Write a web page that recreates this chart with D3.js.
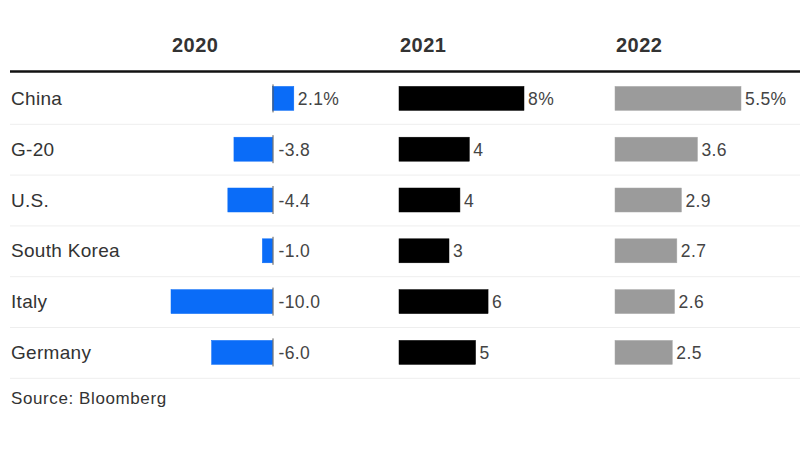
<!DOCTYPE html>
<html>
<head>
<meta charset="utf-8">
<script src="https://cdn.jsdelivr.net/npm/d3@7"></script>
<style>
  html, body { margin: 0; padding: 0; background: #fff; }
  svg { display: block; font-family: "Liberation Sans", Arial, Helvetica, sans-serif; }
</style>
</head>
<body>
<svg id="chart" width="800" height="450"></svg>
<script>
const countries = ["China", "G-20", "U.S.", "South Korea", "Italy", "Germany"];
const years = ["2020", "2021", "2022"];
const values2020 = [2.1, -3.8, -4.4, -1.0, -10.0, -6.0];
const labels2020 = ["2.1%", "-3.8", "-4.4", "-1.0", "-10.0", "-6.0"];
const values2021 = [8.0, 4.5, 3.9, 3.2, 5.7, 4.9];
const labels2021 = ["8%", "4", "4", "3", "6", "5"];
const values2022 = [5.5, 3.6, 2.9, 2.7, 2.6, 2.5];
const labels2022 = ["5.5%", "3.6", "2.9", "2.7", "2.6", "2.5"];
const source = "Source: Bloomberg";

const svg = d3.select("#chart");

const y = d3.scaleBand().domain(countries).range([73, 73 + 50.8 * countries.length]).padding(0);
const barH = 24;

const x2020 = d3.scaleLinear().domain([-10, 0]).range([171, 272.5]);
const x2021 = d3.scaleLinear().domain([0, 8]).range([399, 524]);
const x2022 = d3.scaleLinear().domain([0, 5.5]).range([615, 741]);

const columns = [
  { year: years[0], values: values2020, labels: labels2020, x: x2020, color: "#0a6cf8", stroke: "#0a6cf8", left: x2020(-10) },
  { year: years[1], values: values2021, labels: labels2021, x: x2021, color: "#000000", stroke: "#000000", left: x2021(0) },
  { year: years[2], values: values2022, labels: labels2022, x: x2022, color: "#9b9b9b", stroke: "#a9a9a9", left: x2022(0) }
];

// header line
svg.append("line").attr("x1", 10).attr("x2", 800).attr("y1", 71.5).attr("y2", 71.5)
  .attr("stroke", "#111").attr("stroke-width", 2.5);

// row separators
svg.selectAll("line.sep").data(countries).enter().append("line")
  .attr("class", "sep")
  .attr("x1", 10).attr("x2", 800)
  .attr("y1", d => y(d) + y.bandwidth() + 0.5)
  .attr("y2", d => y(d) + y.bandwidth() + 0.5)
  .attr("stroke", "#eeeeee").attr("stroke-width", 1);

// country labels
svg.selectAll("text.country").data(countries).enter().append("text")
  .attr("class", "country")
  .attr("x", 11)
  .attr("y", d => y(d) + y.bandwidth() / 2 + 6.5)
  .attr("font-size", 19)
  .attr("letter-spacing", 0.3)
  .attr("fill", "#333")
  .text(d => d);

columns.forEach(col => {
  svg.append("text")
    .attr("x", col.left + 1)
    .attr("y", 52)
    .attr("font-size", 20)
    .attr("letter-spacing", 0.5)
    .attr("font-weight", "bold")
    .attr("fill", "#333")
    .text(col.year);

  const g = svg.append("g");
  const x0 = col.x(0);
  g.selectAll("rect").data(col.values).enter().append("rect")
    .attr("x", v => Math.min(col.x(v), x0))
    .attr("y", (v, i) => y(countries[i]) + (y.bandwidth() - barH) / 2)
    .attr("width", v => Math.abs(col.x(v) - x0))
    .attr("height", barH)
    .attr("fill", col.color)
    .attr("stroke", col.stroke)
    .attr("stroke-width", 0.5);

  g.selectAll("text").data(col.values).enter().append("text")
    .attr("x", v => Math.max(col.x(v), x0) + (v < 0 ? 6 : 4))
    .attr("y", (v, i) => y(countries[i]) + y.bandwidth() / 2 + 6.5)
    .attr("font-size", 17.5)
    .attr("letter-spacing", 0.4)
    .attr("fill", "#444")
    .text((v, i) => col.labels[i]);
});

// zero line for 2020 column
svg.selectAll("line.zero").data(countries).enter().append("line")
  .attr("class", "zero")
  .attr("x1", x2020(0) + 0.5).attr("x2", x2020(0) + 0.5)
  .attr("y1", d => y(d) + (y.bandwidth() - barH) / 2 - 2)
  .attr("y2", d => y(d) + (y.bandwidth() + barH) / 2 + 2)
  .attr("stroke", "#555").attr("stroke-width", 1);

svg.append("text")
  .attr("x", 11).attr("y", 404)
  .attr("font-size", 17)
  .attr("letter-spacing", 0.6)
  .attr("fill", "#333")
  .text(source);
</script>
</body>
</html>
